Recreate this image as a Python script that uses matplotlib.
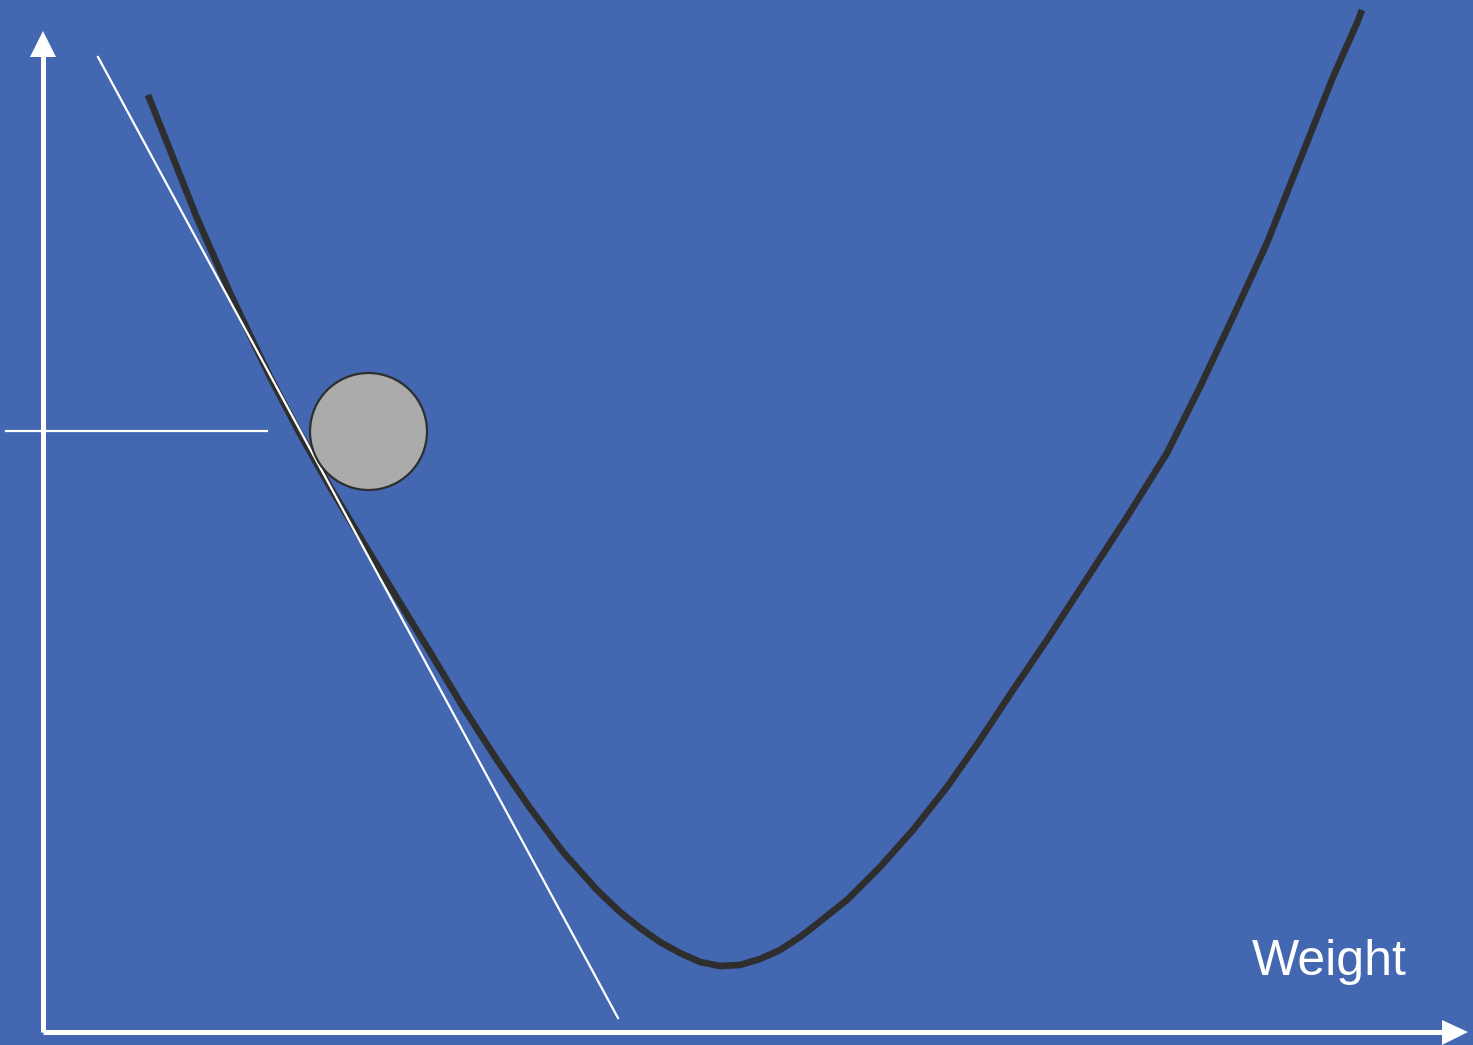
import numpy as np
import matplotlib.pyplot as plt
from matplotlib.patches import Circle, Polygon

# picture is laid out in pixel units (x right, y down)
curve_x = [148, 170, 197, 230, 270, 300, 330, 363, 397, 430, 463, 497, 530, 563, 597,
           620, 640, 660, 680, 700, 720, 740, 760, 780, 800, 813, 847, 880, 913, 947,
           980, 1013, 1047, 1073, 1127, 1167, 1200, 1233, 1267, 1300, 1333, 1357, 1362]
curve_y = [95, 150, 218, 293, 377, 434, 487, 542, 598, 652, 707, 760, 808, 852, 890,
           912, 928, 942, 953, 962, 966, 965, 959, 950, 937, 927, 900, 867, 830, 787,
           740, 690, 640, 600, 517, 453, 387, 317, 243, 160, 77, 23, 10]

tangent_x = [98, 618]
tangent_y = [57, 1018]

level_x = [6, 267]
level_y = [431, 431]

ball_center = (368.5, 431.5)
ball_radius = 58.5

label = "Weight"

bg = "#4368b1"
dark = "#2e2e2e"

fig = plt.figure(figsize=(14.73, 10.45), dpi=100)
fig.patch.set_facecolor(bg)
ax = fig.add_axes([0, 0, 1, 1])
ax.set_facecolor(bg)
ax.set_xlim(0, 1473)
ax.set_ylim(1045, 0)
ax.axis("off")

# axes with arrow heads
ax.plot([43, 43], [1032, 50], color="white", lw=3.6, solid_capstyle="butt")
ax.plot([43, 1450], [1032, 1032], color="white", lw=3.6, solid_capstyle="butt")
ax.add_patch(Polygon([[30, 57], [56, 57], [43, 31]], closed=True, color="white", lw=0))
ax.add_patch(Polygon([[1442, 1020], [1442, 1045], [1468, 1032]], closed=True, color="white", lw=0))

# horizontal level line and tangent
ax.plot(level_x, level_y, color="white", lw=1.6)
ax.plot(tangent_x, tangent_y, color="white", lw=1.6, zorder=3)

# error curve
ax.plot(curve_x, curve_y, color=dark, lw=4.8, solid_joinstyle="round",
        solid_capstyle="butt", zorder=2)

# ball
ax.add_patch(Circle(ball_center, ball_radius, facecolor="#ababab", edgecolor=dark,
                    lw=1.6, zorder=4))

ax.text(1252, 975, label, color="white", fontsize=36, family="Liberation Sans",
        ha="left", va="baseline")

fig.savefig("out.png", dpi=100, facecolor=bg)
